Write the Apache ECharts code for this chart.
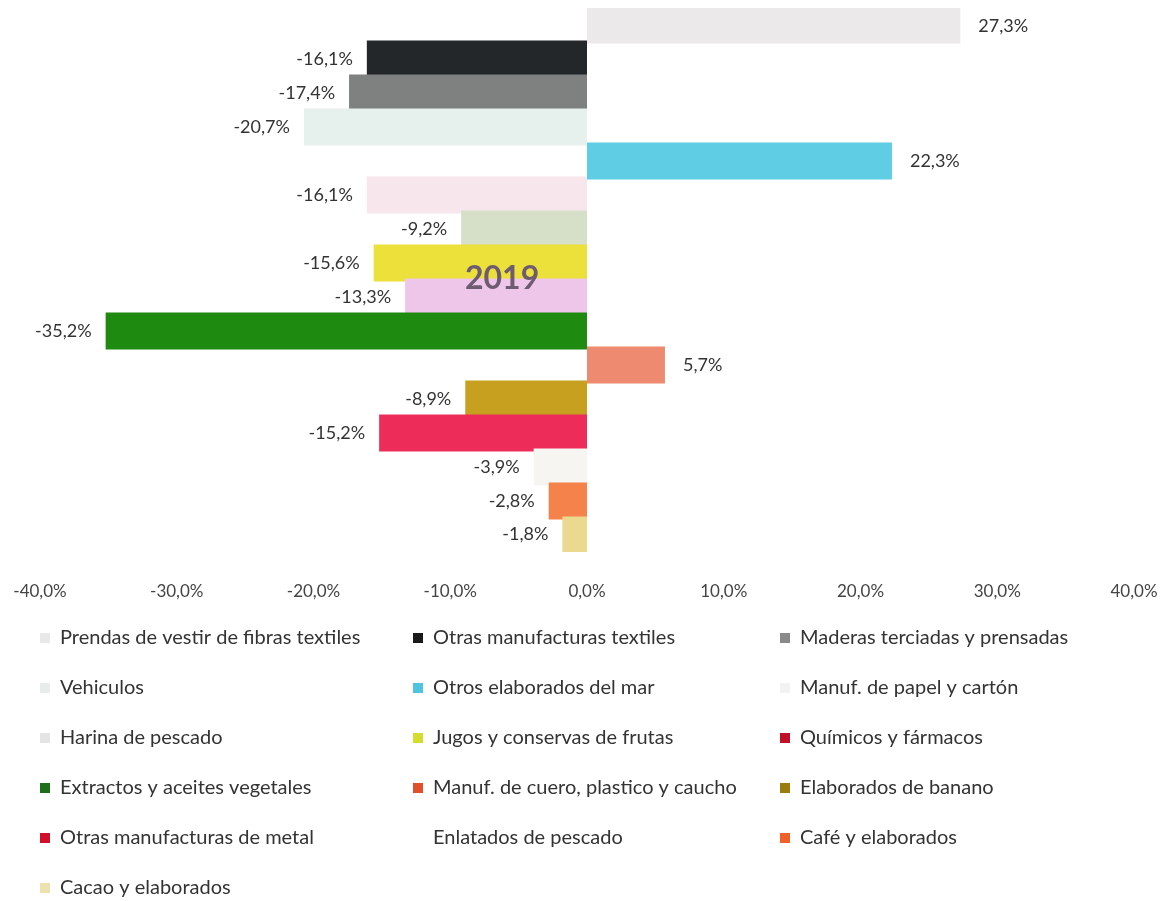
<!DOCTYPE html>
<html>
<head>
<meta charset="utf-8">
<script src="https://cdn.jsdelivr.net/npm/echarts@6/dist/echarts.min.js"></script>
<style>
  html, body { margin: 0; padding: 0; background: #fff; }
  #chart { width: 1171px; height: 901px; }
</style>
</head>
<body>
<div id="chart"></div>
<script>
var categories = [
  'Prendas de vestir de fibras textiles', 'Otras manufacturas textiles', 'Maderas terciadas y prensadas',
  'Vehiculos', 'Otros elaborados del mar', 'Manuf. de papel y cartón',
  'Harina de pescado', 'Jugos y conservas de frutas', 'Químicos y fármacos',
  'Extractos y aceites vegetales', 'Manuf. de cuero, plastico y caucho', 'Elaborados de banano',
  'Otras manufacturas de metal', 'Enlatados de pescado', 'Café y elaborados',
  'Cacao y elaborados'
];
var values = [27.3, -16.1, -17.4, -20.7, 22.3, -16.1, -9.2, -15.6, -13.3, -35.2, 5.7, -8.9, -15.2, -3.9, -2.8, -1.8];
var xTicks = [-40, -30, -20, -10, 0, 10, 20, 30, 40];

var barColors = ['#ebe9ea', '#23272a', '#7f8080', '#e6f0ec', '#5fcde3', '#f7e6ec', '#d6dfc8', '#ece03a',
  '#eec6ea', '#1f8a10', '#ee8a70', '#c8a020', '#ee2c5a', '#f7f5f2', '#f5824a', '#ecd990'];
var legendColors = ['#e8e8e8', '#1a1a1a', '#8a8a8a', '#e8ecea', '#4fc3e0', '#f2f2f2', '#e4e4e4', '#d4dc30',
  '#c0102a', '#1e6e1e', '#e0502a', '#9b7a10', '#d0102a', '#ffffff', '#f0602a', '#ebe2b0'];

function pct(v) { return v.toFixed(1).replace('.', ',') + '%'; }

var chart = echarts.init(document.getElementById('chart'));

var series = categories.map(function (name, i) {
  return {
    name: name,
    type: 'bar',
    stack: 'all',
    barWidth: 37,
    data: categories.map(function (c, j) { return j === i ? values[i] : null; }),
    itemStyle: { color: barColors[i] },
    label: {
      show: true,
      position: values[i] < 0 ? 'left' : 'right',
      distance: values[i] < 0 ? 14 : 18,
      fontFamily: 'Lato',
      fontSize: 18,
      color: '#333',
      formatter: function (p) { return p.value == null ? '' : pct(p.value); }
    }
  };
});

// three legend columns, row-major order like the original
var legendLefts = [35, 408, 775];
var legends = legendLefts.map(function (left, col) {
  var items = [];
  for (var k = col; k < categories.length; k += 3) {
    items.push({ name: categories[k], itemStyle: { color: legendColors[k] } });
  }
  return {
    orient: 'vertical',
    left: left,
    top: 623,
    height: 290,
    itemGap: 30,
    itemWidth: 10,
    itemHeight: 10,
    icon: 'rect',
    selectedMode: false,
    textStyle: { fontFamily: 'Lato', fontSize: 20, lineHeight: 20, color: '#333', padding: [0, 0, 0, 5] },
    data: items
  };
});

var option = {
  animation: false,
  grid: { left: 40, right: 37, top: 8, bottom: 349 },
  legend: legends,
  xAxis: {
    type: 'value',
    min: xTicks[0],
    max: xTicks[xTicks.length - 1],
    interval: 10,
    axisLine: { show: false },
    axisTick: { show: false },
    splitLine: { show: false },
    axisLabel: {
      margin: 31,
      fontFamily: 'Lato',
      fontSize: 17,
      color: '#444',
      formatter: function (v) { return pct(v); }
    }
  },
  yAxis: {
    type: 'category',
    data: categories,
    inverse: true,
    axisLine: { show: false },
    axisTick: { show: false },
    axisLabel: { show: false }
  },
  graphic: [{
    type: 'text',
    left: 465,
    top: 263,
    z: 100,
    style: { text: '2019', fontFamily: 'Lato', fontSize: 32, fontWeight: 'bold', fill: '#6e5b72' }
  }],
  series: series
};

chart.setOption(option);
</script>
</body>
</html>
